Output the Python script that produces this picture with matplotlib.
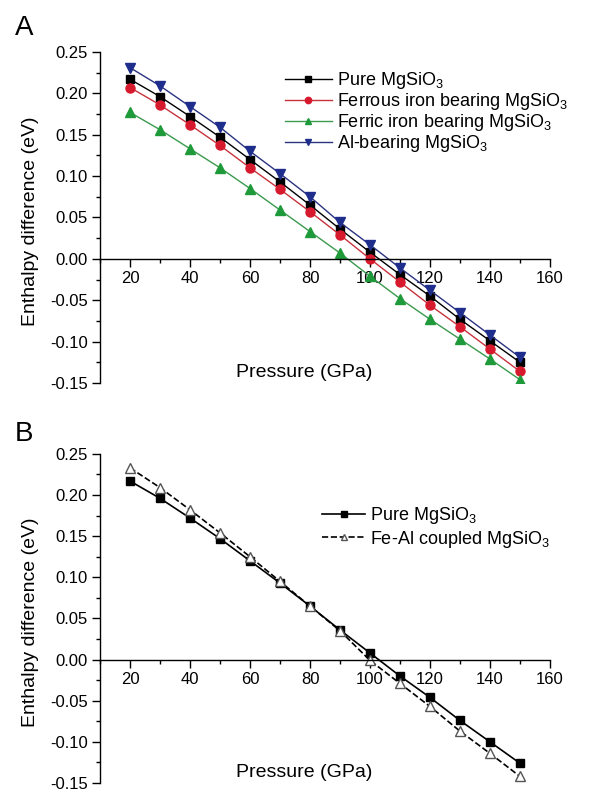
import matplotlib.pyplot as plt
import numpy as np

plt.rcParams['font.family'] = ['Liberation Sans', 'DejaVu Sans']
plt.rcParams['mathtext.fontset'] = 'custom'
plt.rcParams['mathtext.rm'] = 'Liberation Sans'

pressure = [20, 30, 40, 50, 60, 70, 80, 90, 100, 110, 120, 130, 140, 150]

pure = [0.217, 0.196, 0.172, 0.147, 0.120, 0.093, 0.065, 0.036, 0.008,
        -0.019, -0.045, -0.073, -0.099, -0.125]
ferrous = [0.207, 0.186, 0.162, 0.137, 0.110, 0.084, 0.057, 0.029, 0.000,
           -0.028, -0.056, -0.082, -0.109, -0.136]
ferric = [0.177, 0.156, 0.133, 0.110, 0.085, 0.059, 0.033, 0.007, -0.021,
          -0.048, -0.073, -0.097, -0.121, -0.146]
al_bearing = [0.231, 0.209, 0.184, 0.159, 0.130, 0.103, 0.075, 0.044, 0.017,
              -0.011, -0.038, -0.065, -0.092, -0.119]

pure_b = [0.217, 0.196, 0.172, 0.147, 0.120, 0.093, 0.065, 0.036, 0.008,
          -0.020, -0.046, -0.074, -0.100, -0.126]
feal = [0.233, 0.209, 0.182, 0.154, 0.125, 0.095, 0.065, 0.035, -0.001,
        -0.029, -0.057, -0.087, -0.114, -0.142]

fig = plt.figure(figsize=(5.92, 7.93), dpi=100)
axA = fig.add_axes([0.169, 0.517, 0.760, 0.4175])
axB = fig.add_axes([0.169, 0.0126, 0.760, 0.415])


def style_axis(ax):
    ax.set_xlim(10, 160)
    ax.set_ylim(-0.15, 0.25)
    ax.spines['top'].set_visible(False)
    ax.spines['right'].set_visible(False)
    ax.spines['bottom'].set_position(('data', 0))
    ax.set_xticks(np.arange(20, 161, 20))
    ax.set_xticks(np.arange(10, 161, 10), minor=True)
    ax.set_yticks(np.arange(-0.15, 0.251, 0.05))
    ax.set_yticks(np.arange(-0.15, 0.251, 0.025), minor=True)
    ax.yaxis.set_major_formatter(plt.FuncFormatter(lambda v, p: f'{v:.2f}'))
    ax.tick_params(which='major', length=6, width=1, labelsize=12,
                   direction='out', pad=3)
    ax.tick_params(which='minor', length=3, width=1, direction='out')
    for s in ['left', 'bottom']:
        ax.spines[s].set_linewidth(1)
    ax.set_ylabel('Enthalpy difference (eV)', fontsize=14)
    ax.yaxis.set_label_coords(-0.136, 0.49)
    ax.text(0.453, 0.005, 'Pressure (GPa)', transform=ax.transAxes,
            ha='center', va='bottom', fontsize=14)


style_axis(axA)
style_axis(axB)

axA.plot(pressure, pure, '-s', color='black', lw=1, ms=6,
         label='Pure MgSiO$_3$')
axA.plot(pressure, ferrous, '-o', color='#c8323c', mfc='#d7192d', mec='#d7192d',
         lw=1, ms=6.5, label='Ferrous iron bearing MgSiO$_3$')
axA.plot(pressure, ferric, '-^', color='#3a9a4e', mfc='#1f9a3a', mec='#1f9a3a',
         lw=1, ms=6.5, label='Ferric iron bearing MgSiO$_3$')
axA.plot(pressure, al_bearing, '-v', color='#2a3380', mfc='#1f2d8c', mec='#1f2d8c',
         lw=1, ms=6.5, label='Al-bearing MgSiO$_3$')
axA.legend(loc='upper left', bbox_to_anchor=(0.411, 0.945), frameon=False,
           fontsize=13, handlelength=2.6, handletextpad=0.28,
           labelspacing=0.0, markerscale=0.7, borderpad=0, borderaxespad=0)

axB.plot(pressure, pure_b, '-s', color='black', lw=1.2, ms=6,
         label='Pure MgSiO$_3$')
axB.plot(pressure, feal, '--^', color='black', lw=1.2, ms=7, mfc='white',
         mec='#555555', label='Fe-Al coupled MgSiO$_3$')
axB.legend(loc='upper left', bbox_to_anchor=(0.493, 0.845), frameon=False,
           fontsize=13, handlelength=2.4, handletextpad=0.28,
           labelspacing=0.15, markerscale=0.7, borderpad=0, borderaxespad=0)

fig.text(15 / 592, 1 - 15 / 793, 'A', fontsize=20, va='top', ha='left')
fig.text(15 / 592, 1 - 421 / 793, 'B', fontsize=20, va='top', ha='left')

fig.savefig('out.png', dpi=100)
